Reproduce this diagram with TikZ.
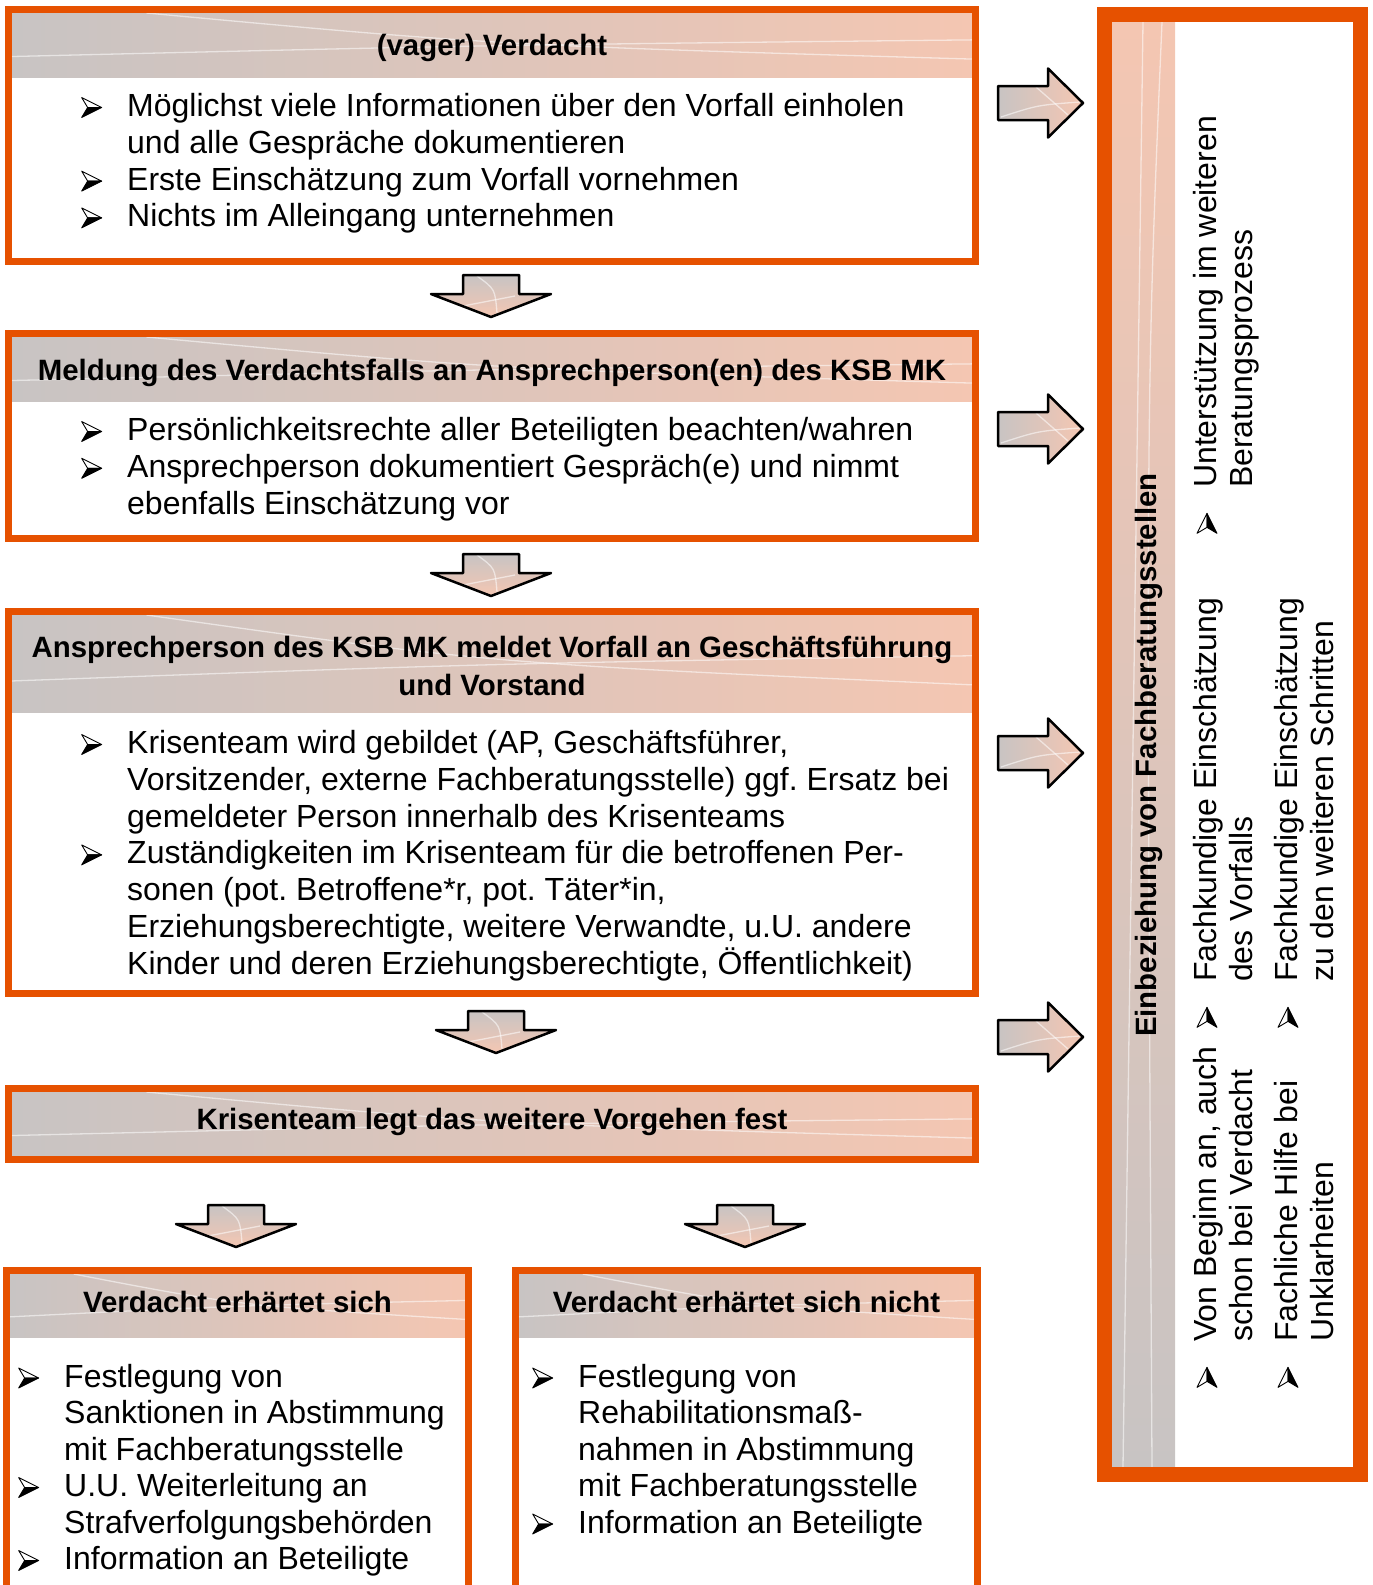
\documentclass[tikz,border=0pt]{standalone}
\usepackage{fontspec}
\setmainfont{Liberation Sans}
\usepackage{tikz}
\usetikzlibrary{calc}

\definecolor{ksborange}{RGB}{230,81,0}
\definecolor{hdgray}{RGB}{200,196,195}
\definecolor{hdsalmon}{RGB}{244,198,178}

% arrowhead bullet, upper half open, lower half black
\newcommand{\bulletglyph}{\tikz[x=1pt,y=1pt,baseline=0pt]{%
  \filldraw[fill=white, draw=black, line width=0.9, line join=round] (0,19) -- (20,9) -- (6,9) -- cycle;
  \filldraw[black, line width=0.9, line join=round] (0,-1) -- (20,9) -- (6,9) -- cycle;}}
\newcommand{\bitem}[1]{\par\noindent\hangindent=46pt\hangafter=1\makebox[46pt][l]{\bulletglyph}#1}
\newcommand{\blist}[2]{\begin{minipage}[t]{#1}\raggedright\frenchspacing #2\end{minipage}}

\tikzset{
  frame/.style={draw=ksborange, line width=7},
  hdline/.style={white, opacity=.55, line width=1.3},
  hdtext/.style={font=\fontsize{29.4}{38.5}\selectfont\bfseries, anchor=base, inner sep=0},
  bodytext/.style={font=\fontsize{32}{36.8}\selectfont, anchor=base west, inner sep=0},
  arrowline/.style={draw=black, line width=2.5, line join=round},
  pics/downblock/.style={code={
    \shade[top color=hdgray, bottom color=hdsalmon] (-28,0) -- (28,0) -- (28,19) -- (60,19) -- (0,42) -- (-60,19) -- (-28,19) -- cycle;
    \draw[hdline] (-14,1) .. controls (4,14) .. (6,38);
    \draw[hdline] (-28,31) -- (24,21);
    \draw[arrowline] (-28,0) -- (28,0) -- (28,19) -- (60,19) -- (0,42) -- (-60,19) -- (-28,19) -- cycle;
  }},
  pics/rightblock/.style={code={
    \shade[left color=hdgray, right color=hdsalmon] (0,-17) -- (50,-17) -- (50,-34.5) -- (85,0) -- (50,34.5) -- (50,17) -- (0,17) -- cycle;
    \draw[hdline] (3,14) .. controls (40,2) .. (82,-1);
    \draw[hdline] (38,-16) -- (70,12);
    \draw[arrowline] (0,-17) -- (50,-17) -- (50,-34.5) -- (85,0) -- (50,34.5) -- (50,17) -- (0,17) -- cycle;
  }}
}

% header band with gradient and two faint lines
\newcommand{\hdband}[4]{%
  \shade[left color=hdgray, right color=hdsalmon] (#1,#2) rectangle (#3,#4);
  \draw[hdline] ($(#1,#2)!.14!(#3,#2)$) .. controls ($(#1,#2)!.5!(#3,#4)$) .. ($(#3,#2)!.72!(#3,#4)$);
  \draw[hdline] ($(#1,#2)!.68!(#1,#4)$) .. controls ($(#1,#4)!.5!(#3,#2)$) .. ($(#3,#2)!.42!(#3,#4)$);
}

\begin{document}
\begin{tikzpicture}[x=1pt,y=-1pt]
\useasboundingbox (0,0) rectangle (1373,1585);

% (vager) Verdacht
\hdband{12}{13}{972}{77}
\draw[frame] (8.5,9.5) rectangle (975.5,261.5);
\node[hdtext] (hd1) at (492,55) {(vager) Verdacht};
\node[bodytext] (tx1) at (81,116.5) {\blist{900pt}{%
  \bitem{Möglichst viele Informationen über den Vorfall einholen\newline und alle Gespräche dokumentieren}
  \bitem{Erste Einschätzung zum Vorfall vornehmen}
  \bitem{Nichts im Alleingang unternehmen}}};

% Meldung
\hdband{12}{337}{972}{401}
\draw[frame] (8.5,333.5) rectangle (975.5,538.5);
\node[hdtext] (hd2) at (492,380) {Meldung des Verdachtsfalls an Ansprechperson(en) des KSB MK};
\node[bodytext] (tx2) at (81,440.5) {\blist{900pt}{%
  \bitem{Persönlichkeitsrechte aller Beteiligten beachten/wahren}
  \bitem{Ansprechperson dokumentiert Gespräch(e) und nimmt\newline ebenfalls Einschätzung vor}}};

% Ansprechperson meldet
\hdband{12}{615}{972}{712}
\draw[frame] (8.5,611.5) rectangle (975.5,993.5);
\node[hdtext] (hd3) at (492,657) {\begin{minipage}[t]{960pt}\centering
  Ansprechperson des KSB MK meldet Vorfall an Geschäftsführung\\und Vorstand\end{minipage}};
\node[bodytext] (tx3) at (81,753.5) {\blist{900pt}{%
  \bitem{Krisenteam wird gebildet (AP, Geschäftsführer,\newline Vorsitzender, externe Fachberatungsstelle) ggf. Ersatz bei\newline gemeldeter Person innerhalb des Krisenteams}
  \bitem{Zuständigkeiten im Krisenteam für die betroffenen Per-\newline sonen (pot. Betroffene*r, pot. Täter*in,\newline Erziehungsberechtigte, weitere Verwandte, u.U. andere\newline Kinder und deren Erziehungsberechtigte, Öffentlichkeit)}}};

% Krisenteam
\hdband{12}{1092}{972}{1156}
\draw[frame] (8.5,1088.5) rectangle (975.5,1159.5);
\node[hdtext] (hd4) at (492,1129) {Krisenteam legt das weitere Vorgehen fest};

% erhaertet sich
\hdband{10}{1274}{465}{1337}
\draw[frame] (6.5,1600) -- (6.5,1270.5) -- (468.5,1270.5) -- (468.5,1600);
\node[hdtext] (hd5) at (237.5,1312) {Verdacht erhärtet sich};
\node[bodytext, font=\fontsize{32}{36.5}\selectfont] (tx5) at (18,1387) {\blist{440pt}{%
  \bitem{Festlegung von\newline Sanktionen in Abstimmung\newline mit Fachberatungsstelle}
  \bitem{U.U. Weiterleitung an\newline Strafverfolgungsbehörden}
  \bitem{Information an Beteiligte}}};

% erhaertet sich nicht
\hdband{519}{1274}{974}{1337}
\draw[frame] (515.5,1600) -- (515.5,1270.5) -- (977.5,1270.5) -- (977.5,1600);
\node[hdtext] (hd6) at (746.5,1312) {Verdacht erhärtet sich nicht};
\node[bodytext, font=\fontsize{32}{36.5}\selectfont] (tx6) at (532,1387) {\blist{440pt}{%
  \bitem{Festlegung von\newline Rehabilitationsmaß-\newline nahmen in Abstimmung\newline mit Fachberatungsstelle}
  \bitem{Information an Beteiligte}}};

% block arrows
\pic at (491,275) {downblock};
\pic at (491,554) {downblock};
\pic at (496,1011) {downblock};
\pic at (236,1205) {downblock};
\pic at (745,1205) {downblock};
\pic at (998,103) {rightblock};
\pic at (998,429) {rightblock};
\pic at (998,753) {rightblock};
\pic at (998,1037) {rightblock};

% Fachberatungsstellen
\shade[top color=hdsalmon, bottom color=hdgray] (1112,22) rectangle (1175,1467);
\draw[hdline] (1143,22) -- (1123,1467);
\draw[hdline] (1162,22) .. controls (1146,400) .. (1152,1467);
\draw[frame, line width=15] (1104.5,14.5) rectangle (1360.5,1474.5);
\node[hdtext, rotate=90] (hdp) at (1156,755) {Einbeziehung von Fachberatungsstellen};
\node[bodytext, rotate=90, font=\fontsize{32}{36}\selectfont] (fb1) at (1216,1388) {\blist{520pt}{\bitem{Von Beginn an, auch\newline schon bei Verdacht}}};
\node[bodytext, rotate=90, font=\fontsize{32}{36}\selectfont] (fb2) at (1216,1028) {\blist{520pt}{\bitem{Fachkundige Einschätzung\newline des Vorfalls}}};
\node[bodytext, rotate=90, font=\fontsize{32}{36}\selectfont] (fb3) at (1216,534) {\blist{520pt}{\bitem{Unterstützung im weiteren\newline Beratungsprozess}}};
\node[bodytext, rotate=90, font=\fontsize{32}{36}\selectfont] (fb4) at (1297,1388) {\blist{520pt}{\bitem{Fachliche Hilfe bei\newline Unklarheiten}}};
\node[bodytext, rotate=90, font=\fontsize{32}{36}\selectfont] (fb5) at (1297,1028) {\blist{520pt}{\bitem{Fachkundige Einschätzung\newline zu den weiteren Schritten}}};

\end{tikzpicture}
\end{document}
